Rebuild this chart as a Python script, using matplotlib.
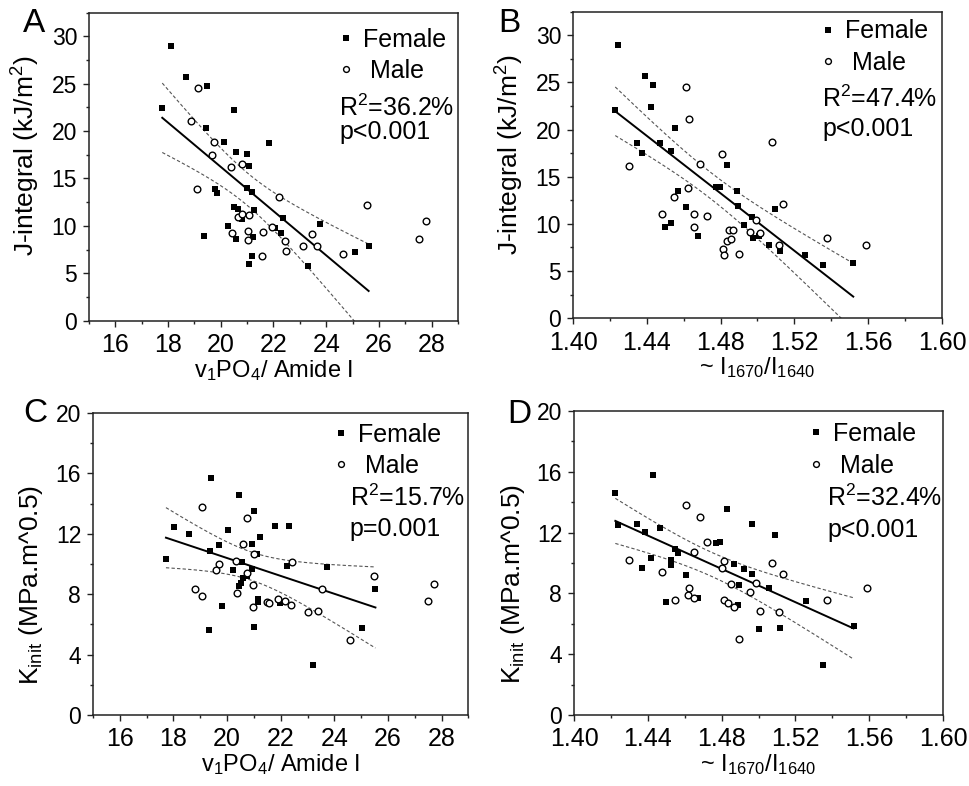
import numpy as np
import matplotlib
matplotlib.use('Agg')
import matplotlib.pyplot as plt
from matplotlib.ticker import MultipleLocator, FormatStrFormatter
from matplotlib.lines import Line2D

plt.rcParams['font.family'] = ['Liberation Sans', 'DejaVu Sans']
plt.rcParams['mathtext.fontset'] = 'custom'
plt.rcParams['mathtext.rm'] = 'Liberation Sans'
plt.rcParams['mathtext.it'] = 'Liberation Sans:italic'
plt.rcParams['mathtext.default'] = 'regular'

# ---------------- Panel A : J-integral vs v1PO4/Amide I ----------------
a_fem_x = [18.10, 18.68, 19.46, 17.78, 20.50, 19.44, 20.13, 21.84, 20.56, 20.98, 21.08,
           20.98, 21.20, 19.78, 19.86, 20.50, 20.67, 21.27, 20.82, 22.37, 20.29, 22.06,
           22.28, 23.76, 19.38, 20.56, 21.23, 21.17, 21.08, 23.30, 25.10, 25.61]
a_fem_y = [29.0, 25.7, 24.7, 22.4, 22.2, 20.3, 18.8, 18.7, 17.8, 17.6, 16.3,
           14.0, 13.6, 13.9, 13.5, 12.0, 11.8, 11.7, 10.7, 10.8, 10.0, 9.8,
           9.3, 10.2, 8.9, 8.6, 8.8, 6.8, 6.0, 5.8, 7.2, 7.9]
a_male_x = [19.12, 18.88, 19.74, 19.65, 20.40, 20.79, 19.11, 22.21, 25.53, 27.78, 27.52,
            20.64, 20.79, 21.07, 20.44, 21.03, 21.02, 21.61, 21.93, 22.44, 22.49, 21.55,
            23.12, 23.47, 23.65, 24.64]
a_male_y = [24.5, 21.1, 18.8, 17.5, 16.2, 16.5, 13.9, 13.0, 12.2, 10.5, 8.6,
            10.9, 11.2, 11.1, 9.2, 9.5, 8.5, 9.4, 9.9, 8.4, 7.4, 6.8,
            7.9, 9.1, 7.9, 7.0]

# ---------------- Panel B : J-integral vs I1670/I1640 ----------------
b_fem_x = [1.4242, 1.4229, 1.4391, 1.4432, 1.4425, 1.4552, 1.4347, 1.4374, 1.4472, 1.4529,
           1.4836, 1.4774, 1.4799, 1.4569, 1.4890, 1.4894, 1.4614, 1.5094, 1.4968, 1.4530,
           1.4501, 1.4926, 1.4676, 1.4974, 1.5008, 1.5064, 1.5123, 1.5259, 1.5353, 1.5519]
b_fem_y = [29.0, 22.1, 25.7, 24.7, 22.4, 20.2, 18.6, 17.5, 18.6, 17.7,
           16.2, 13.9, 13.9, 13.5, 13.5, 11.9, 11.8, 11.6, 10.7, 10.1,
           9.7, 9.9, 8.7, 8.5, 8.7, 7.8, 7.1, 6.7, 5.6, 5.9]
b_male_x = [1.4614, 1.4627, 1.5077, 1.4808, 1.4688, 1.4303, 1.4621, 1.4550, 1.5137, 1.4483,
            1.4658, 1.4725, 1.4656, 1.4990, 1.4843, 1.4868, 1.4957, 1.5012, 1.4837, 1.4857,
            1.4814, 1.4821, 1.4899, 1.5115, 1.5375, 1.5589]
b_male_y = [24.5, 21.1, 18.7, 17.4, 16.3, 16.1, 13.8, 12.8, 12.1, 11.1,
            11.0, 10.8, 9.7, 10.4, 9.3, 9.3, 9.1, 9.0, 8.2, 8.4,
            7.3, 6.7, 6.8, 7.8, 8.5, 7.8]

# ---------------- Panel C : Kinit vs v1PO4/Amide I ----------------
c_fem_x = [19.40, 20.43, 21.01, 18.03, 18.59, 20.05, 21.78, 22.32, 21.22, 19.69, 20.94,
           19.37, 17.72, 20.54, 21.12, 22.23, 23.74, 20.23, 20.93, 20.73, 20.58, 20.50,
           20.44, 25.53, 21.17, 21.14, 21.99, 19.81, 19.32, 21.01, 25.02, 23.21]
c_fem_y = [15.70, 14.55, 13.49, 12.46, 12.01, 12.24, 12.54, 12.50, 11.77, 11.29, 11.35,
           10.87, 10.30, 10.14, 10.63, 9.88, 9.81, 9.57, 9.66, 9.21, 9.10, 8.77,
           8.53, 8.33, 7.65, 7.47, 7.43, 7.21, 5.62, 5.82, 5.73, 3.33]
c_male_x = [19.07, 20.73, 20.60, 21.00, 20.33, 22.43, 19.68, 19.58, 20.73, 25.49, 27.73,
            27.48, 20.96, 18.81, 19.06, 20.37, 23.55, 21.50, 21.56, 21.88, 22.14, 22.38,
            20.96, 23.00, 23.39, 24.57]
c_male_y = [13.76, 13.03, 11.35, 10.67, 10.19, 10.10, 10.01, 9.63, 9.41, 9.21, 8.66,
            7.58, 8.60, 8.33, 7.89, 8.05, 8.33, 7.50, 7.39, 7.67, 7.56, 7.28,
            7.12, 6.79, 6.86, 4.98]

# ---------------- Panel D : Kinit vs I1670/I1640 ----------------
d_fem_x = [1.4224, 1.4427, 1.4236, 1.4340, 1.4387, 1.4467, 1.4831, 1.4964, 1.5089, 1.4767,
           1.4793, 1.4547, 1.4564, 1.4418, 1.4524, 1.4369, 1.4524, 1.4867, 1.4922, 1.4609,
           1.4967, 1.4893, 1.5058, 1.4673, 1.4496, 1.4889, 1.5255, 1.5000, 1.5118, 1.5515,
           1.5349]
d_fem_y = [14.62, 15.78, 12.52, 12.57, 12.07, 12.28, 13.55, 12.55, 11.83, 11.32,
           11.37, 10.91, 10.67, 10.32, 10.23, 9.66, 9.84, 9.92, 9.62, 9.18,
           9.27, 8.57, 8.37, 7.69, 7.43, 7.26, 7.50, 5.64, 5.75, 5.84,
           3.32]
d_male_x = [1.4609, 1.4684, 1.4722, 1.4653, 1.4298, 1.4811, 1.5073, 1.4804, 1.4478, 1.5133,
            1.4986, 1.4853, 1.4624, 1.5586, 1.4616, 1.4953, 1.4547, 1.4651, 1.4815, 1.4837,
            1.4866, 1.5371, 1.5007, 1.5111, 1.4895]
d_male_y = [13.81, 13.05, 11.37, 10.71, 10.21, 10.12, 10.03, 9.68, 9.44, 9.25,
            8.68, 8.63, 8.35, 8.35, 7.91, 8.07, 7.54, 7.69, 7.54, 7.37,
            7.10, 7.58, 6.84, 6.78, 4.98]

panel_letters = ['A', 'B', 'C', 'D']
r2_texts = ['36.2%', '47.4%', '15.7%', '32.4%']
p_texts = ['p<0.001', 'p<0.001', 'p=0.001', 'p<0.001']
xlabel_pho = r'v$_1$PO$_4$/ Amide I'
xlabel_ratio = r'~ I$_{1670}$/I$_{1640}$'
ylabel_j = r'J-integral (kJ/m$^2$)'
ylabel_k = r'K$_{init}$ (MPa.m^0.5)'

T95 = 2.04  # Student t, 95 %, ~30 d.o.f.


def fit_band(x, y):
    x = np.asarray(x)
    y = np.asarray(y)
    n = len(x)
    slope, icpt = np.polyfit(x, y, 1)
    xs = np.linspace(x.min(), x.max(), 200)
    yh = icpt + slope * xs
    resid = y - (icpt + slope * x)
    s = np.sqrt(np.sum(resid ** 2) / (n - 2))
    sxx = np.sum((x - x.mean()) ** 2)
    hw = T95 * s * np.sqrt(1.0 / n + (xs - x.mean()) ** 2 / sxx)
    return xs, yh, yh - hw, yh + hw


fig = plt.figure(figsize=(9.7, 7.86), dpi=100)
W, H = 970.0, 786.0
rects = [(89, 458, 12.5, 320.7), (573, 942, 11.7, 318.2),
         (93, 468.5, 413, 715), (574, 943, 411, 715)]
axes = [fig.add_axes([l / W, 1 - b / H, (r - l) / W, (b - t) / H]) for (l, r, t, b) in rects]

datasets = [(a_fem_x, a_fem_y, a_male_x, a_male_y),
            (b_fem_x, b_fem_y, b_male_x, b_male_y),
            (c_fem_x, c_fem_y, c_male_x, c_male_y),
            (d_fem_x, d_fem_y, d_male_x, d_male_y)]

leg_anchor = [(0.655, 0.967), (0.650, 0.991), (0.620, 0.985), (0.615, 0.980)]
r2_pos = [(0.678, 0.692, 0.612), (0.675, 0.716, 0.618),
          (0.684, 0.718, 0.617), (0.686, 0.713, 0.607)]

spine_col = '#222222'
for i, ax in enumerate(axes):
    fx, fy, mx, my = datasets[i]
    ax.plot(fx, fy, 's', color='black', ms=4.8, mew=0, zorder=3)
    ax.plot(mx, my, 'o', mfc='white', mec='black', ms=4.8, mew=1.0, zorder=4)
    xs, yh, lo, hi = fit_band(fx, fy)
    ax.plot(xs, yh, '-', color='black', lw=1.4, zorder=2)
    ax.plot(xs, lo, '--', color='#555555', lw=0.8, dashes=(3, 2), zorder=2)
    ax.plot(xs, hi, '--', color='#555555', lw=0.8, dashes=(3, 2), zorder=2)

    if i in (0, 2):
        ax.set_xlim(15, 29)
        ax.xaxis.set_major_locator(MultipleLocator(2))
        ax.xaxis.set_minor_locator(MultipleLocator(1))
        ax.set_xlabel(xlabel_pho, fontsize=17, labelpad=0.5)
    else:
        ax.set_xlim(1.40, 1.60)
        ax.xaxis.set_major_locator(MultipleLocator(0.04))
        ax.xaxis.set_minor_locator(MultipleLocator(0.02))
        ax.xaxis.set_major_formatter(FormatStrFormatter('%.2f'))
        ax.set_xlabel(xlabel_ratio, fontsize=17, labelpad=0.5)
    if i in (0, 1):
        ax.set_ylim(0, 32.5)
        ax.yaxis.set_major_locator(MultipleLocator(5))
        ax.yaxis.set_minor_locator(MultipleLocator(2.5))
        ax.set_ylabel(ylabel_j, fontsize=19)
        ax.yaxis.set_label_coords(-0.128, 0.535)
    else:
        ax.set_ylabel(ylabel_k, fontsize=19)
        ax.set_ylim(0, 20)
        ax.yaxis.set_major_locator(MultipleLocator(4))
        ax.yaxis.set_minor_locator(MultipleLocator(2))
        ax.yaxis.set_label_coords(-0.128, 0.43)

    for sp in ax.spines.values():
        sp.set_color(spine_col)
        sp.set_linewidth(1.1)
    ax.tick_params(axis='both', which='both', direction='out', top=False, right=False,
                   color=spine_col, width=1.0)
    ax.tick_params(axis='both', which='major', length=4.5)
    ax.tick_params(axis='both', which='minor', length=2.5)
    ax.tick_params(axis='x', which='major', labelsize=18, pad=4.5)
    ax.tick_params(axis='y', which='major', labelsize=16.5, pad=4)

    handles = [Line2D([], [], ls='none', marker='s', color='black', ms=4.2, mew=0),
               Line2D([], [], ls='none', marker='o', mfc='white', mec='black', ms=4.2, mew=1.0)]
    ax.legend(handles, ['Female', ' Male'], loc='upper left', bbox_to_anchor=leg_anchor[i],
              frameon=False, fontsize=18, handlelength=0.8, handletextpad=0.3,
              labelspacing=0.3, borderpad=0.2, borderaxespad=0.0)
    rx, ry, py = r2_pos[i]
    ax.text(rx, ry, r'R$^2$=' + r2_texts[i], transform=ax.transAxes, fontsize=18,
            ha='left', va='center')
    ax.text(rx, py, p_texts[i], transform=ax.transAxes, fontsize=18,
            ha='left', va='center')

letter_pos = [(23, 32), (498, 32), (23, 422), (507, 423)]
for (lx, ly), lt in zip(letter_pos, panel_letters):
    fig.text(lx / W, 1 - ly / H, lt, fontsize=24, ha='left', va='baseline')

fig.savefig('out.png', dpi=100)
